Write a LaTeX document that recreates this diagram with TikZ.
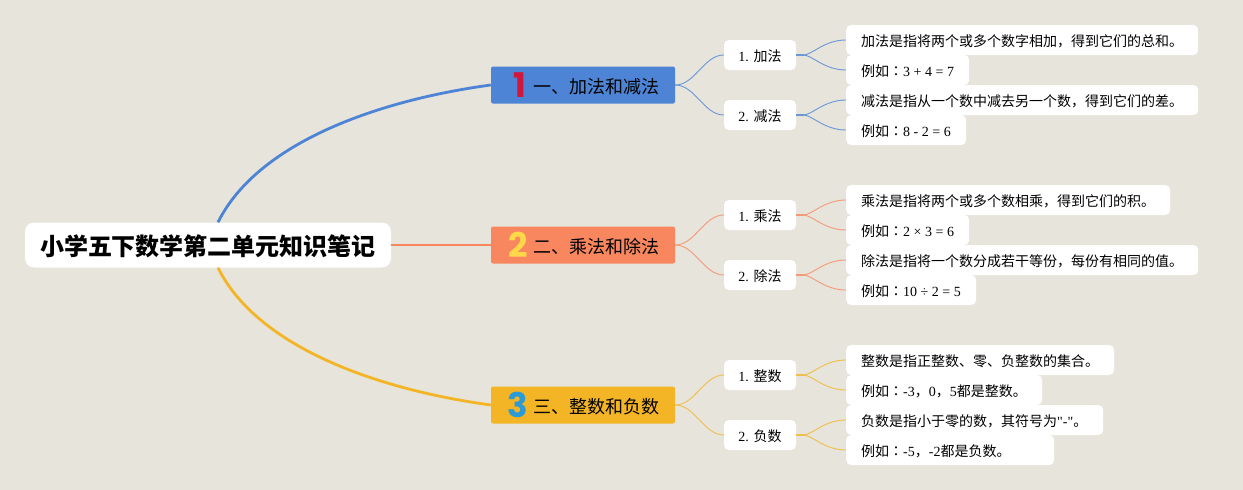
\documentclass[tikz,border=0pt]{standalone}
\usepackage{fontspec}
\setmainfont{Liberation Serif}
\newfontfamily\cjk{Noto Sans CJK SC}
\newfontfamily\cjktc{Noto Sans CJK TC}
\newfontfamily\plainlat{Liberation Serif}
\newfontfamily\numfont{Poppins}
\definecolor{bgcol}{HTML}{E6E4DB}
\definecolor{bluecol}{HTML}{4D84D6}
\definecolor{redcol}{HTML}{F88760}
\definecolor{yelcol}{HTML}{F3B526}
\definecolor{numred}{HTML}{D0183C}
\definecolor{numyel}{HTML}{FFD84A}
\definecolor{numblue}{HTML}{2A9BD6}
\newcommand{\zh}[1]{{\cjk #1}}
\newcommand{\eg}[1]{{\cjk 例如}{\cjktc ：}\mbox{\spaceskip=0pt #1}}
\tikzset{
  x=1pt,y=-1pt,
  rootbox/.style={fill=white,rounded corners=9pt,minimum width=366pt,minimum height=45pt,inner sep=0pt,text height=20pt,text depth=0pt,font=\cjk\bfseries\fontsize{24}{24}\selectfont},
  topicbox/.style={rounded corners=2pt,minimum height=37pt,inner xsep=42pt,inner ysep=0pt,text width=100pt,align=left,text height=16pt,text depth=0pt,font=\cjk\fontsize{18}{18}\selectfont},
  numlabel/.style={inner sep=0pt,font=\numfont\bfseries\fontsize{34}{34}\selectfont},
  subbox/.style={fill=white,rounded corners=5pt,minimum width=72pt,minimum height=30pt,inner sep=0pt,text height=12pt,text depth=0pt,font=\fontsize{14}{14}\selectfont},
  leafbox/.style={fill=white,rounded corners=5pt,minimum height=30pt,inner xsep=15pt,inner ysep=0pt,anchor=west,text width=#1,align=left,text height=12pt,text depth=0pt,font=\fontsize{14}{14}\selectfont},
  link/.style={line width=.9pt},
  stublink/.style={line width=1.7pt},
  mainlink/.style={line width=2.8pt},
}
\begin{document}
\begin{tikzpicture}
\fill[bgcol] (0,0) rectangle (1243,490);
\useasboundingbox (0,0) rectangle (1243,490);
\node[rootbox] (root) at (208,245) {小学五下数学第二单元知识笔记};
\node[topicbox,fill=bluecol] (t1) at (583,85) {一、加法和减法};
\node[topicbox,fill=redcol] (t2) at (583,245) {二、乘法和除法};
\node[topicbox,fill=yelcol] (t3) at (583,405) {三、整数和负数};
\node[numlabel,text=numred] (n1) at (520,85) {1};
\node[numlabel,text=numyel] (n2) at (518,245) {2};
\node[numlabel,text=numblue] (n3) at (518,405) {3};
\node[subbox] (s11) at (760,55) {1. \zh{加法}};
\node[subbox] (s12) at (760,115) {2. \zh{减法}};
\node[subbox] (s21) at (760,215) {1. \zh{乘法}};
\node[subbox] (s22) at (760,275) {2. \zh{除法}};
\node[subbox] (s31) at (760,375) {1. \zh{整数}};
\node[subbox] (s32) at (760,435) {2. \zh{负数}};
\node[leafbox=322pt] (l111) at (846,40) {\zh{加法是指将两个或多个数字相加，得到它们的总和。}};
\node[leafbox=93pt] (l112) at (846,70) {\eg{3 + 4 = 7}};
\node[leafbox=322pt] (l121) at (846,100) {\zh{减法是指从一个数中减去另一个数，得到它们的差。}};
\node[leafbox=90pt] (l122) at (846,130) {\eg{8 - 2 = 6}};
\node[leafbox=294pt] (l211) at (846,200) {\zh{乘法是指将两个或多个数相乘，得到它们的积。}};
\node[leafbox=93pt] (l212) at (846,230) {\eg{2 × 3 = 6}};
\node[leafbox=322pt] (l221) at (846,260) {\zh{除法是指将一个数分成若干等份，每份有相同的值。}};
\node[leafbox=100pt] (l222) at (846,290) {\eg{10 ÷ 2 = 5}};
\node[leafbox=238pt] (l311) at (846,360) {\zh{整数是指正整数、零、负整数的集合。}};
\node[leafbox=166pt] (l312) at (846,390) {\eg{-3\zh{，}0\zh{，}5\zh{都是整数。}}};
\node[leafbox=227pt] (l321) at (846,420) {\zh{负数是指小于零的数，其符号为}{\plainlat "-"}\zh{。}};
\node[leafbox=178pt] (l322) at (846,450) {\eg{-5\zh{，}-2\zh{都是负数。}}};
\draw[mainlink,bluecol] ([xshift=10pt]root.north) .. controls +(40,-80.5) and (380,100) .. (t1.west);
\draw[line width=1.4pt,redcol] (root.east) -- (t2.west);
\draw[mainlink,yelcol] ([xshift=10pt]root.south) .. controls +(40,80.5) and (380,390) .. (t3.west);
\foreach \from/\to/\col in {t1/s11/bluecol,t1/s12/bluecol,t2/s21/redcol,t2/s22/redcol,t3/s31/yelcol,t3/s32/yelcol}
  \draw[link,\col!80!bgcol] (\from.east) .. controls +(20,0) and ([xshift=-20pt]\to.west) .. (\to.west);
\foreach \from/\to/\col in {s11/l111/bluecol,s11/l112/bluecol,s12/l121/bluecol,s12/l122/bluecol,
  s21/l211/redcol,s21/l212/redcol,s22/l221/redcol,s22/l222/redcol,
  s31/l311/yelcol,s31/l312/yelcol,s32/l321/yelcol,s32/l322/yelcol}
{
  \draw[stublink,\col!80!bgcol] (\from.east) -- +(8,0);
  \draw[link,\col!80!bgcol] ([xshift=7pt]\from.east) .. controls +(9,0) and ([xshift=-22pt]\to.west) .. (\to.west);
}
\end{tikzpicture}
\end{document}
